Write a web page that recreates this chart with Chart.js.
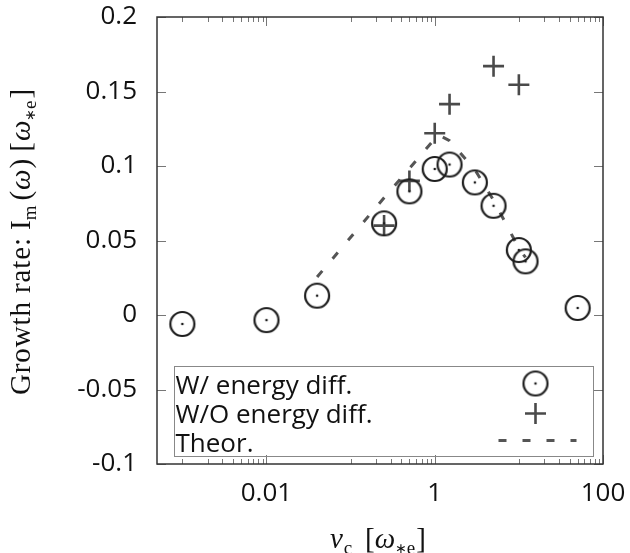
<!DOCTYPE html>
<html>
<head>
<meta charset="utf-8">
<script src="https://cdn.jsdelivr.net/npm/chart.js@4"></script>
<style>
html,body{margin:0;padding:0;background:#fff;}
canvas{display:block;}
</style>
</head>
<body>
<canvas id="c" width="630" height="553"></canvas>
<script>
// ---- data ----
const nuWith = [0.001, 0.01, 0.04, 0.25, 0.5, 1, 1.5, 3, 5, 10, 12, 50];
const growthWith = [-0.006, -0.0034, 0.013, 0.0615, 0.083, 0.098, 0.101, 0.089, 0.0733, 0.0436, 0.036, 0.0047];
const nuWithout = [0.25, 0.5, 1, 1.5, 5, 10];
const growthWithout = [0.06, 0.09, 0.122, 0.1415, 0.167, 0.1545];
const nuTheor = [0.04, 0.25, 0.5, 1.1, 1.5, 3, 5, 10, 12];
const growthTheor = [0.0255, 0.0787, 0.0983, 0.121, 0.117, 0.0975, 0.077, 0.0448, 0.0386];
const legendLabels = ['W/ energy diff.', 'W/O energy diff.', 'Theor.'];
const xLabelTicks = [0.01, 1, 100];
const xMinorTicks = [0.001, 0.002, 0.003, 0.004, 0.005, 0.006, 0.007, 0.008, 0.009,
                     0.1, 0.2, 0.3, 0.4, 0.5, 0.6, 0.7, 0.8, 0.9,
                     10, 20, 30, 40, 50, 60, 70, 80, 90];
const yTicks = [-0.1, -0.05, 0, 0.05, 0.1, 0.15, 0.2];
const xRange = [0.0005, 100];
const yRange = [-0.1, 0.2];

// ---- styles / layout ----
const TARGET = {left: 157, top: 17, right: 603, bottom: 464};
const TICK_FONT = {family: '"Open Sans"', size: 26};
const SERIF = '"Liberation Serif", "DejaVu Serif", serif';
const CIRCLE_COLOR = '#1e1e1e';
const CROSS_COLOR = '#4a4a4a';
const THEOR_COLOR = '#555555';

const circleImg = (() => {
  const c = document.createElement('canvas');
  c.width = 30; c.height = 30;
  const g = c.getContext('2d');
  g.strokeStyle = CIRCLE_COLOR; g.lineWidth = 2.2;
  g.beginPath(); g.arc(15, 15, 12, 0, Math.PI * 2); g.stroke();
  g.fillStyle = CIRCLE_COLOR;
  g.beginPath(); g.arc(15, 15, 1.3, 0, Math.PI * 2); g.fill();
  return c;
})();

const xTickValues = [...xMinorTicks, ...xLabelTicks].sort((a, b) => a - b);

// pieces placed at offsets (px) along the baseline, or flowing after the previous piece
function drawPlaced(ctx, pieces, x0, y0) {
  ctx.textAlign = 'left';
  ctx.textBaseline = 'alphabetic';
  const hasLS = 'letterSpacing' in ctx;
  let cursor = 0;
  pieces.forEach(p => {
    ctx.font = p.font;
    if (hasLS) ctx.letterSpacing = '0px';
    let w = ctx.measureText(p.t).width;
    if (p.fitWidth && hasLS) {
      const ls = Math.max(0, (p.fitWidth - w) / (p.t.length - 1));
      ctx.letterSpacing = ls.toFixed(2) + 'px';
      w = p.fitWidth;
    }
    const pos = (p.at !== undefined) ? p.at : cursor + (p.gap || 0);
    ctx.fillText(p.t, x0 + pos, y0 + (p.dy || 0));
    cursor = pos + w;
  });
  if (hasLS) ctx.letterSpacing = '0px';
}

function zeroPad(s) { s.paddingTop = 0; s.paddingBottom = 0; s.paddingLeft = 0; s.paddingRight = 0; }

const framePlugin = {
  id: 'frame',
  beforeDatasetsDraw(chart) {
    const {ctx, chartArea: a, scales: {x, y}} = chart;
    ctx.save();
    ctx.strokeStyle = '#777';
    ctx.lineWidth = 1;
    ctx.beginPath();
    x.ticks.forEach(t => {
      const px = Math.round(x.getPixelForValue(t.value)) + 0.5;
      const L = xLabelTicks.includes(t.value) ? 9 : 5;
      ctx.moveTo(px, a.bottom); ctx.lineTo(px, a.bottom - L);
      ctx.moveTo(px, a.top); ctx.lineTo(px, a.top + L);
    });
    y.ticks.forEach(t => {
      const py = Math.round(y.getPixelForValue(t.value)) + 0.5;
      ctx.moveTo(a.left, py); ctx.lineTo(a.left + 9, py);
      ctx.moveTo(a.right, py); ctx.lineTo(a.right - 9, py);
    });
    ctx.stroke();
    ctx.strokeStyle = '#333';
    ctx.lineWidth = 1.5;
    ctx.strokeRect(a.left, a.top, a.right - a.left, a.bottom - a.top);
    ctx.restore();
  }
};

const decorPlugin = {
  id: 'decor',
  afterDraw(chart) {
    const {ctx, chartArea: a} = chart;
    ctx.save();
    // legend box
    const bx = a.left + 17.5, by = a.top + 349.5, bw = 419, bh = 90;
    ctx.strokeStyle = '#888'; ctx.lineWidth = 1;
    ctx.strokeRect(bx, by, bw, bh);
    ctx.fillStyle = '#111';
    ctx.font = '26px "Open Sans"';
    ctx.textAlign = 'left'; ctx.textBaseline = 'alphabetic';
    const base = [by + 27, by + 56, by + 85];
    legendLabels.forEach((t, i) => ctx.fillText(t, bx + 1, base[i]));
    const sx = bx + 361;
    ctx.drawImage(circleImg, sx - 15, base[0] - 10 - 15);
    ctx.strokeStyle = CROSS_COLOR; ctx.lineWidth = 2.6;
    ctx.beginPath();
    ctx.moveTo(sx - 10.5, base[1] - 9); ctx.lineTo(sx + 10.5, base[1] - 9);
    ctx.moveTo(sx, base[1] - 19.5); ctx.lineTo(sx, base[1] + 1.5);
    ctx.stroke();
    ctx.strokeStyle = THEOR_COLOR; ctx.lineWidth = 3; ctx.setLineDash([8, 16]);
    ctx.beginPath();
    ctx.moveTo(bx + 324, base[2] - 11); ctx.lineTo(bx + 402, base[2] - 11);
    ctx.stroke();
    ctx.setLineDash([]);

    // axis titles
    ctx.fillStyle = '#111';
    const f = '29px ' + SERIF, fi = 'italic 29px ' + SERIF;
    const fs = '19px ' + SERIF, fa = '14px "DejaVu Sans", sans-serif';
    drawPlaced(ctx, [
      {t: 'ν', font: fi, at: 0},
      {t: 'c', font: fs, gap: 1, dy: 6},
      {t: '[', font: f, at: 35},
      {t: 'ω', font: fi, gap: 0},
      {t: '∗', font: fa, gap: 0, dy: 5},
      {t: 'e', font: fs, gap: 0, dy: 6},
      {t: ']', font: f, gap: 1}
    ], a.left + 173, 548);

    ctx.translate(30, 395);
    ctx.rotate(-Math.PI / 2);
    drawPlaced(ctx, [
      {t: 'Growth rate:', font: f, at: 0, fitWidth: 157},
      {t: 'I', font: f, at: 165},
      {t: 'm', font: fs, gap: 0, dy: 6},
      {t: '(', font: f, gap: 5},
      {t: 'ω', font: fi, gap: 1},
      {t: ')', font: f, gap: 1},
      {t: '[', font: f, gap: 7},
      {t: 'ω', font: fi, gap: 1},
      {t: '∗', font: fa, gap: 0, dy: 5},
      {t: 'e', font: fs, gap: 0, dy: 6},
      {t: ']', font: f, gap: 2}
    ], 0, 0);
    ctx.restore();
  }
};

const chart = new Chart(document.getElementById('c'), {
  type: 'scatter',
  data: {
    datasets: [
      {
        label: legendLabels[0],
        data: nuWith.map((x, i) => ({x, y: growthWith[i]})),
        showLine: false,
        pointStyle: circleImg,
        pointRadius: 12
      },
      {
        label: legendLabels[1],
        data: nuWithout.map((x, i) => ({x, y: growthWithout[i]})),
        showLine: false,
        pointStyle: 'cross',
        pointRadius: 10.5,
        pointBorderWidth: 2.6,
        pointBorderColor: CROSS_COLOR,
        borderColor: CROSS_COLOR
      },
      {
        label: legendLabels[2],
        data: nuTheor.map((x, i) => ({x, y: growthTheor[i]})),
        showLine: true,
        borderColor: THEOR_COLOR,
        borderWidth: 3,
        borderDash: [8, 16],
        pointRadius: 0,
        fill: false,
        tension: 0
      }
    ]
  },
  options: {
    responsive: false,
    animation: false,
    devicePixelRatio: 1,
    events: [],
    layout: {padding: {left: 0, right: 27, top: 17, bottom: 0}},
    plugins: {legend: {display: false}, tooltip: {enabled: false}},
    scales: {
      x: {
        type: 'logarithmic',
        min: xRange[0], max: xRange[1],
        afterBuildTicks: s => { s.ticks = xTickValues.map(v => ({value: v})); },
        afterFit: s => { s.height = 89; zeroPad(s); },
        grid: {display: false, drawTicks: false},
        border: {display: false},
        ticks: {
          autoSkip: false, maxRotation: 0, minRotation: 0, padding: 14,
          color: '#111', font: TICK_FONT,
          callback: v => xLabelTicks.includes(v) ? String(v) : ''
        }
      },
      y: {
        type: 'linear',
        min: yRange[0], max: yRange[1],
        afterBuildTicks: s => { s.ticks = yTicks.map(v => ({value: v})); },
        afterFit: s => { s.width = 157; zeroPad(s); },
        grid: {display: false, drawTicks: false},
        border: {display: false},
        ticks: {
          padding: 20, color: '#111', font: TICK_FONT,
          callback: v => String(Math.round(v * 100) / 100)
        }
      }
    }
  },
  plugins: [framePlugin, decorPlugin]
});

// pin the plot area to the reference frame
for (let k = 0; k < 4; k++) {
  const ca = chart.chartArea;
  const p = chart.options.layout.padding;
  const dl = TARGET.left - ca.left, dt = TARGET.top - ca.top;
  const dr = ca.right - TARGET.right, db = ca.bottom - TARGET.bottom;
  if (Math.abs(dl) < 0.5 && Math.abs(dt) < 0.5 && Math.abs(dr) < 0.5 && Math.abs(db) < 0.5) break;
  p.left += dl; p.top += dt; p.right += dr; p.bottom += db;
  chart.update();
}
</script>
</body>
</html>
